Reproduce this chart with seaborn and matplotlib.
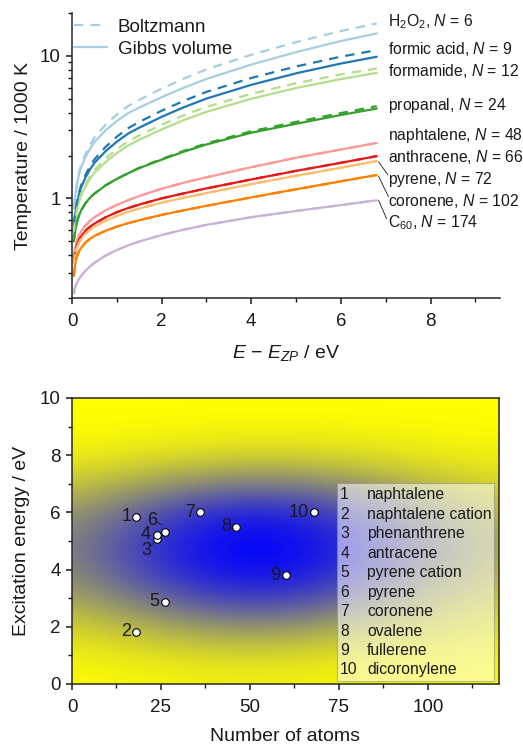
import numpy as np
import pandas as pd
import matplotlib
matplotlib.use("Agg")
import matplotlib.pyplot as plt
import seaborn as sns
from matplotlib.lines import Line2D
from matplotlib.patches import Rectangle
from matplotlib.colors import LinearSegmentedColormap
from matplotlib.ticker import MultipleLocator, FixedLocator, LogLocator, NullFormatter

# ---------------- data: top panel ----------------
energy = [0.04, 0.07, 0.1, 0.15, 0.2, 0.3, 0.4, 0.5, 0.75, 1.0, 1.25, 1.5,
          2.0, 2.5, 3.0, 4.0, 5.0, 6.0, 6.8]
molecules = ["H2O2", "formic acid", "formamide", "propanal", "naphtalene",
             "anthracene", "pyrene", "coronene", "C60"]
n_atoms_top = [6, 9, 12, 24, 48, 66, 72, 102, 174]
gibbs = {
    "H2O2":        [0.847, 1.029, 1.195, 1.437, 1.637, 1.947, 2.227, 2.484, 3.002, 3.49, 3.956, 4.342,
                    5.133, 5.987, 6.895, 8.69, 10.63, 12.72, 14.38],
    "formic acid": [0.643, 0.771, 0.886, 1.053, 1.186, 1.401, 1.595, 1.774, 2.144, 2.50, 2.846, 3.137,
                    3.736, 4.367, 5.018, 6.265, 7.545, 8.841, 9.857],
    "formamide":   [0.58, 0.69, 0.79, 0.93, 1.04, 1.215, 1.37, 1.51, 1.8, 2.08, 2.35, 2.58,
                    3.05, 3.55, 4.05, 5.0, 5.95, 6.88, 7.6],
    "propanal":    [0.50, 0.585, 0.66, 0.75, 0.82, 0.925, 1.01, 1.08, 1.235, 1.37, 1.5, 1.63,
                    1.87, 2.13, 2.39, 2.89, 3.34, 3.85, 4.27],
    "naphtalene":  [0.38, 0.45, 0.495, 0.545, 0.584, 0.645, 0.695, 0.737, 0.825, 0.90, 0.97, 1.04,
                    1.17, 1.29, 1.406, 1.656, 1.928, 2.203, 2.45],
    "anthracene":  [0.36, 0.42, 0.46, 0.505, 0.54, 0.592, 0.632, 0.665, 0.737, 0.80, 0.855, 0.905,
                    1.0, 1.086, 1.175, 1.358, 1.56, 1.778, 1.98],
    "pyrene":      [0.352, 0.408, 0.446, 0.486, 0.518, 0.565, 0.603, 0.632, 0.697, 0.753, 0.804, 0.849,
                    0.933, 1.012, 1.091, 1.259, 1.442, 1.641, 1.828],
    "coronene":    [0.285, 0.345, 0.385, 0.42, 0.448, 0.49, 0.52, 0.545, 0.593, 0.634, 0.67, 0.703,
                    0.766, 0.826, 0.887, 1.016, 1.159, 1.318, 1.46],
    "C60":         [0.215, 0.238, 0.252, 0.27, 0.285, 0.31, 0.333, 0.353, 0.397, 0.434, 0.468, 0.498,
                    0.553, 0.604, 0.652, 0.738, 0.816, 0.897, 0.97],
}
boltzmann = {
    "H2O2":        [0.863, 1.053, 1.228, 1.487, 1.706, 2.048, 2.37, 2.673, 3.29, 3.881, 4.439, 4.915,
                    5.893, 6.939, 8.046, 10.18, 12.49, 14.95, 16.9],
    "formic acid": [0.653, 0.785, 0.906, 1.082, 1.225, 1.46, 1.678, 1.879, 2.298, 2.71, 3.105, 3.438,
                    4.124, 4.843, 5.59, 7.0, 8.43, 9.875, 10.98],
    "formamide":   [0.585, 0.70, 0.803, 0.95, 1.067, 1.255, 1.425, 1.581, 1.903, 2.213, 2.512, 2.771,
                    3.291, 3.838, 4.39, 5.42, 6.43, 7.42, 8.16],
    "propanal":    [0.50, 0.585, 0.66, 0.75, 0.82, 0.925, 1.01, 1.08, 1.235, 1.37, 1.5, 1.64,
                    1.89, 2.16, 2.43, 2.96, 3.44, 3.97, 4.44],
    "naphtalene":  [0.38, 0.45, 0.495, 0.545, 0.584, 0.645, 0.695, 0.737, 0.825, 0.90, 0.97, 1.04,
                    1.17, 1.29, 1.406, 1.656, 1.928, 2.203, 2.45],
    "anthracene":  [0.36, 0.42, 0.46, 0.505, 0.54, 0.592, 0.632, 0.665, 0.737, 0.80, 0.855, 0.905,
                    1.0, 1.086, 1.175, 1.358, 1.56, 1.778, 1.98],
    "pyrene":      [0.352, 0.408, 0.446, 0.486, 0.518, 0.565, 0.603, 0.632, 0.697, 0.753, 0.804, 0.849,
                    0.933, 1.012, 1.091, 1.259, 1.442, 1.641, 1.828],
    "coronene":    [0.285, 0.345, 0.385, 0.42, 0.448, 0.49, 0.52, 0.545, 0.593, 0.634, 0.67, 0.703,
                    0.766, 0.826, 0.887, 1.016, 1.159, 1.318, 1.46],
    "C60":         [0.215, 0.238, 0.252, 0.27, 0.285, 0.31, 0.333, 0.353, 0.397, 0.434, 0.468, 0.498,
                    0.553, 0.604, 0.652, 0.738, 0.816, 0.897, 0.97],
}
label_texts = [r"H$_2$O$_2$, $N$ = 6", r"formic acid, $N$ = 9", r"formamide, $N$ = 12",
               r"propanal, $N$ = 24", r"naphtalene, $N$ = 48", r"anthracene, $N$ = 66",
               r"pyrene, $N$ = 72", r"coronene, $N$ = 102", r"C$_{60}$, $N$ = 174"]
label_y = [17.3, 11.1, 7.85, 4.51, 2.78, 1.96, 1.36, 0.96, 0.675]

# ---------------- data: bottom panel ----------------
point_ids = ["1", "2", "3", "4", "5", "6", "7", "8", "9", "10"]
point_names = ["naphtalene", "naphtalene cation", "phenanthrene", "antracene",
               "pyrene cation", "pyrene", "coronene", "ovalene", "fullerene", "dicoronylene"]
point_atoms = [18, 18, 24, 24, 26, 26, 36, 46, 60, 68]
point_energy = [5.85, 1.82, 5.07, 5.22, 2.87, 5.33, 6.0, 5.5, 3.8, 6.0]

# background intensity (0 = yellow, 1 = blue) read on a coarse grid
bg_x = [0, 20, 40, 60, 80, 100, 120]
bg_y = [0, 1, 2, 3, 4, 5, 6, 7, 8, 9, 10]
bg_z = [
    [0.02, 0.03, 0.05, 0.05, 0.03, 0.02, 0.02],
    [0.05, 0.10, 0.15, 0.15, 0.10, 0.07, 0.05],
    [0.17, 0.30, 0.42, 0.43, 0.32, 0.20, 0.12],
    [0.34, 0.55, 0.74, 0.76, 0.58, 0.36, 0.20],
    [0.46, 0.73, 0.94, 0.97, 0.78, 0.50, 0.28],
    [0.48, 0.76, 0.98, 1.00, 0.82, 0.55, 0.32],
    [0.40, 0.64, 0.85, 0.87, 0.70, 0.45, 0.26],
    [0.22, 0.37, 0.50, 0.52, 0.42, 0.27, 0.15],
    [0.07, 0.11, 0.16, 0.17, 0.14, 0.09, 0.06],
    [0.01, 0.02, 0.03, 0.03, 0.03, 0.02, 0.01],
    [0.00, 0.00, 0.00, 0.00, 0.00, 0.00, 0.00],
]

# ---------------- style ----------------
sns.set_style("ticks")
plt.rcParams["font.family"] = ["Liberation Sans", "DejaVu Sans"]
plt.rcParams["mathtext.fontset"] = "custom"
plt.rcParams["mathtext.rm"] = "Liberation Sans"
plt.rcParams["mathtext.it"] = "Liberation Sans:italic"
plt.rcParams["mathtext.bf"] = "Liberation Sans:bold"
plt.rcParams["axes.linewidth"] = 1.1
plt.rcParams["xtick.major.width"] = 1.1
plt.rcParams["ytick.major.width"] = 1.1
plt.rcParams["xtick.minor.width"] = 1.0
plt.rcParams["ytick.minor.width"] = 1.0
plt.rcParams["xtick.major.size"] = 4.5
plt.rcParams["ytick.major.size"] = 4.5
plt.rcParams["xtick.minor.size"] = 2.8
plt.rcParams["ytick.minor.size"] = 2.8
plt.rcParams["xtick.major.pad"] = 6
plt.rcParams["ytick.major.pad"] = 3.5
plt.rcParams["xtick.direction"] = "out"
plt.rcParams["ytick.direction"] = "out"
for k in ["text.color", "axes.labelcolor", "xtick.color", "ytick.color"]:
    plt.rcParams[k] = "#1a1a1a"

fig = plt.figure(figsize=(5.23, 7.44), dpi=100)
ax1 = fig.add_axes([72 / 523, 1 - 298 / 744, 428 / 523, 285 / 744])
ax2 = fig.add_axes([72 / 523, 1 - 684 / 744, 427 / 523, 286 / 744])

palette = sns.color_palette("Paired", 9)

# ---------------- top panel ----------------
rows = []
for m in molecules:
    for e, tg, tb in zip(energy, gibbs[m], boltzmann[m]):
        rows.append((m, e, tg, "Gibbs volume"))
        rows.append((m, e, tb, "Boltzmann"))
df = pd.DataFrame(rows, columns=["molecule", "E", "T", "method"])

sns.lineplot(data=df[df.method == "Gibbs volume"], x="E", y="T", hue="molecule",
             hue_order=molecules, palette=palette, ax=ax1, legend=False, lw=1.6,
             estimator=None, sort=False)
sns.lineplot(data=df[df.method == "Boltzmann"], x="E", y="T", hue="molecule",
             hue_order=molecules, palette=palette, ax=ax1, legend=False, lw=1.6,
             estimator=None, sort=False)
for line in ax1.get_lines()[len(molecules):]:
    line.set_dashes((4.2, 3.2))

ax1.set_yscale("log")
ax1.set_xlim(0, 9.55)
ax1.set_ylim(0.2, 20)
ax1.xaxis.set_major_locator(MultipleLocator(2))
ax1.xaxis.set_minor_locator(MultipleLocator(1))
ax1.yaxis.set_major_locator(FixedLocator([1, 10]))
ax1.yaxis.set_minor_locator(LogLocator(base=10, subs=np.arange(2, 10)))
ax1.yaxis.set_minor_formatter(NullFormatter())
ax1.set_yticklabels(["1", "10"])
ax1.tick_params(labelsize=13.5)
ax1.spines["top"].set_visible(False)
ax1.spines["right"].set_visible(False)
ax1.set_xlabel(r"$E$ − $E_{ZP}$ / eV", fontsize=14, labelpad=10)
ax1.set_ylabel("Temperature / 1000 K", fontsize=14, labelpad=6)

for txt, yv in zip(label_texts, label_y):
    ax1.text(7.05, yv, txt, fontsize=11.3, va="center", ha="left", clip_on=False)

for (x0, y0), (x1, y1) in [((6.84, 1.81), (7.05, 1.46)),
                           ((6.84, 1.43), (7.06, 1.03)),
                           ((6.84, 0.97), (7.02, 0.72))]:
    ax1.annotate("", xy=(x0, y0), xytext=(x1, y1),
                 arrowprops=dict(arrowstyle="-", lw=0.6, color="#1a1a1a",
                                 shrinkA=0, shrinkB=0))

leg_handles = [Line2D([], [], color=palette[0], lw=1.6, dashes=(4.2, 3.2)),
               Line2D([], [], color=palette[0], lw=1.6)]
ax1.legend(leg_handles, ["Boltzmann", "Gibbs volume"], loc="upper left",
           bbox_to_anchor=(0.0, 0.987), frameon=False, fontsize=13.5,
           handlelength=1.75, handletextpad=0.6, labelspacing=0.25,
           borderaxespad=0.0, borderpad=0.1)

# ---------------- bottom panel ----------------
cmap = LinearSegmentedColormap.from_list("yb", ["#ffff00", "#0000ff"])
ax2.imshow(np.array(bg_z), extent=(-10, 130, -0.5, 10.5), origin="lower",
           aspect="auto", interpolation="bicubic", cmap=cmap, vmin=0, vmax=1,
           zorder=0)

pts = pd.DataFrame({"atoms": point_atoms, "energy": point_energy, "id": point_ids})
sns.scatterplot(data=pts, x="atoms", y="energy", ax=ax2, s=30, color="white",
                edgecolor="black", linewidth=0.8, zorder=3, legend=False)

ax2.set_xlim(0, 120)
ax2.set_ylim(0, 10)
ax2.xaxis.set_major_locator(MultipleLocator(25))
ax2.xaxis.set_minor_locator(MultipleLocator(12.5))
ax2.yaxis.set_major_locator(MultipleLocator(2))
ax2.yaxis.set_minor_locator(MultipleLocator(1))
ax2.tick_params(labelsize=13.5)
for s in ax2.spines.values():
    s.set_visible(True)
ax2.set_xlabel("Number of atoms", fontsize=14, labelpad=9)
ax2.set_ylabel("Excitation energy / eV", fontsize=14, labelpad=7)

offsets = {"3": (-4.5, -8.0), "6": (-5.0, 8.0), "4": (-4.8, 0.0)}
for pid, xa, ya in zip(point_ids, point_atoms, point_energy):
    dx, dy = offsets.get(pid, (-3.5, 0.0))
    ax2.annotate(pid, xy=(xa, ya), xytext=(dx, dy), textcoords="offset points",
                 ha="right", va="center", fontsize=13, zorder=4)
ax2.annotate("", xy=(23.1, 4.94), xytext=(22.1, 4.83),
             arrowprops=dict(arrowstyle="-", lw=0.6, color="#1a1a1a", shrinkA=0, shrinkB=0))
ax2.annotate("", xy=(25.2, 5.56), xytext=(23.8, 5.67),
             arrowprops=dict(arrowstyle="-", lw=0.6, color="#1a1a1a", shrinkA=0, shrinkB=0))

ax2.add_patch(Rectangle((0.621, 0.0105), 0.367, 0.6925, transform=ax2.transAxes,
                        facecolor="white", alpha=0.55, edgecolor="#888888",
                        lw=0.8, zorder=5))
for i, (pid, name) in enumerate(zip(point_ids, point_names)):
    yy = 0.661 - i * 0.068
    ax2.text(0.628, yy, pid, transform=ax2.transAxes, fontsize=11.3,
             va="center", ha="left", zorder=6)
    ax2.text(0.691, yy, name, transform=ax2.transAxes, fontsize=11.3,
             va="center", ha="left", zorder=6)

fig.savefig("out.png", dpi=100)
